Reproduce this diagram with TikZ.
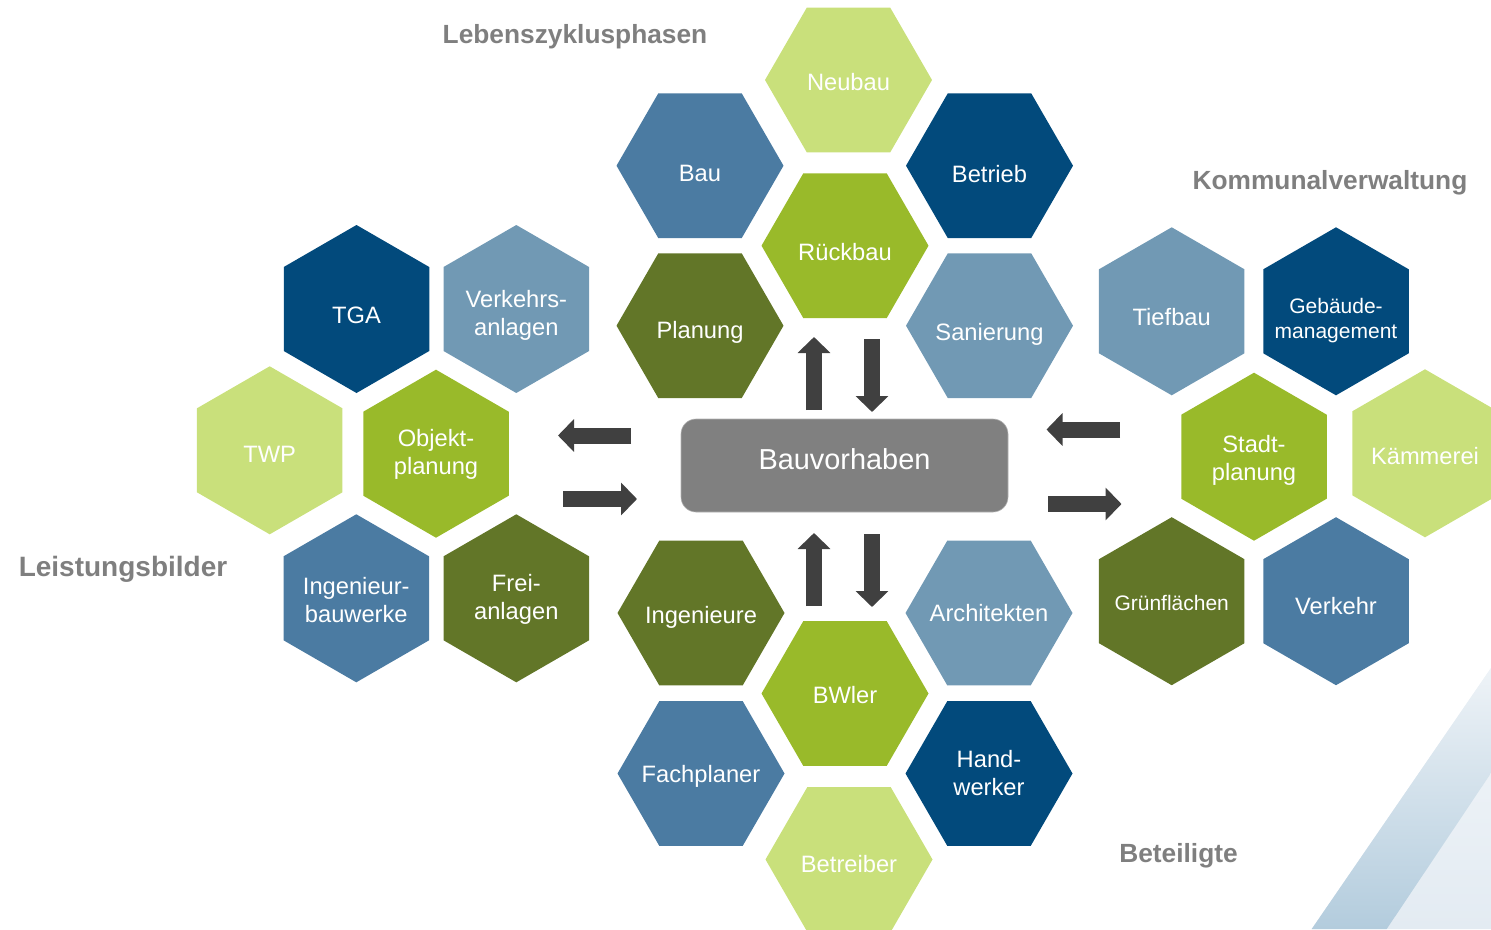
\documentclass[tikz,border=0pt]{standalone}
\usepackage{fontspec}
\setmainfont{Liberation Sans}
\usepackage{xcolor}
\usepackage{tikz}
\usetikzlibrary{shapes.geometric,arrows.meta}

\definecolor{hexlight}{HTML}{C9E07B}
\definecolor{hexmid}{HTML}{99BA2A}
\definecolor{hexdark}{HTML}{627628}
\definecolor{hexsteel}{HTML}{4B7BA2}
\definecolor{hexnavy}{HTML}{024A7C}
\definecolor{hexpale}{HTML}{7199B4}
\definecolor{titlegray}{HTML}{7F7F7F}
\definecolor{boxgray}{HTML}{808080}
\definecolor{arrowgray}{HTML}{404040}
\definecolor{bandpale}{HTML}{E3EBF2}
\definecolor{bandblue}{HTML}{B3CCDD}

\newcommand{\hexfont}{\fontsize{23.7}{28}\selectfont}
\newcommand{\hexsmall}{\fontsize{21}{25}\selectfont}
\newcommand{\titlefont}{\fontsize{26.3}{30}\selectfont\bfseries}
\newcommand{\boxfont}{\fontsize{28.9}{34}\selectfont}

% push the label of a hexagon down by #1 (one line / two lines)
\tikzset{
  tdown/.code={\pgfmathsetlengthmacro\hexth{17pt+2*#1pt}\tikzset{text height=\hexth}},
  tdownii/.code={\pgfmathsetlengthmacro\hexth{45pt+2*#1pt}\tikzset{text height=\hexth}},
}

\begin{document}
\begin{tikzpicture}[
    x=1pt, y=-1pt,
    hexflat/.style={regular polygon, regular polygon sides=6, minimum size=167pt, inner sep=-30pt, text=white, font=\hexfont, align=center, text depth=0pt, tdown=0},
    hexpoint/.style={hexflat, shape border rotate=90, minimum size=168pt},
    grouptitle/.style={anchor=base, text=titlegray, font=\titlefont, inner sep=0pt},
    projbox/.style={rectangle, rounded corners=15pt, fill=boxgray, draw=white!70!black, line width=0.6pt, minimum width=327pt, minimum height=93pt, text=white, font=\boxfont, text depth=12pt},
    blockarrow/.style={arrowgray, line width=16pt, -{Triangle[length=16pt, width=32pt]}},
  ]
  \useasboundingbox (0,0) rectangle (1491,929);

  % backdrop stripe, bottom right corner
  \shade[top color=bandpale!45!white, bottom color=bandpale] (1491,668) -- (1311.7,929) -- (1491,929) -- cycle;
  \shade[top color=bandpale!60!white, bottom color=bandblue] (1491,668) -- (1311.7,929) -- (1386.7,929) -- (1491,773) -- cycle;

  % --- centre ---
  \node[projbox] (bauvorhaben) at (844.5,465.5) {Bauvorhaben};

  % --- Lebenszyklusphasen (top) ---
  \node[grouptitle] (ttlLeben) at (575,43) {Lebenszyklusphasen};
  \node[hexflat, fill=hexlight, tdown=2] (neubau) at (848.5,80) {Neubau};
  \node[hexflat, fill=hexsteel, tdown=7] (bau) at (700,165.7) {Bau};
  \node[hexflat, fill=hexnavy, tdown=8] (betrieb) at (989.5,165.7) {Betrieb};
  \node[hexflat, fill=hexmid, tdown=6] (rueckbau) at (845,245.7) {Rückbau};
  \node[hexflat, fill=hexdark, tdown=4.5] (planung) at (700,325.7) {Planung};
  \node[hexflat, fill=hexpale, tdown=6] (sanierung) at (989.5,325.7) {Sanierung};

  % --- Beteiligte (bottom) ---
  \node[grouptitle] (ttlBet) at (1178.5,862) {Beteiligte};
  \node[hexflat, fill=hexdark, tdown=2] (ingenieure) at (701,613) {Ingenieure};
  \node[hexflat, fill=hexpale] (architekten) at (989,613) {Architekten};
  \node[hexflat, fill=hexmid, tdown=1.5] (bwler) at (845,693.5) {BWler};
  \node[hexflat, fill=hexsteel] (fachplaner) at (701,773.5) {Fachplaner};
  \node[hexflat, fill=hexnavy, tdownii=-1] (handwerker) at (989,773.5) {Hand-\\werker};
  \node[hexflat, fill=hexlight, tdown=4] (betreiber) at (849,859.5) {Betreiber};

  % --- Leistungsbilder (left) ---
  \node[grouptitle, font=\fontsize{28}{32}\selectfont\bfseries] (ttlLeist) at (123,576) {Leistungsbilder};
  \node[hexpoint, fill=hexnavy, tdown=6] (tga) at (356.5,309) {TGA};
  \node[hexpoint, fill=hexpale, tdownii=4] (verkehrsanl) at (516.3,309) {Verkehrs-\\anlagen};
  \node[hexpoint, fill=hexlight, tdown=4] (twp) at (269.7,450.3) {TWP};
  \node[hexpoint, fill=hexmid, tdownii=-1.5] (objektpl) at (436,453.7) {Objekt-\\planung};
  \node[hexpoint, fill=hexsteel, tdownii=2] (ingbauw) at (356.3,598.3) {Ingenieur-\\bauwerke};
  \node[hexpoint, fill=hexdark, tdownii=-1] (freianl) at (516.3,598.3) {Frei-\\anlagen};

  % --- Kommunalverwaltung (right) ---
  \node[grouptitle] (ttlKomm) at (1330,189) {Kommunalverwaltung};
  \node[hexpoint, fill=hexpale, tdown=6] (tiefbau) at (1171.7,311.3) {Tiefbau};
  \node[hexpoint, fill=hexnavy, font=\hexsmall, tdownii=5] (gebmgmt) at (1336,311.3) {Gebäude-\\management};
  \node[hexpoint, fill=hexmid, tdownii=1] (stadtpl) at (1254,456.7) {Stadt-\\planung};
  \node[hexpoint, fill=hexlight, tdown=3] (kaemmerei) at (1425,453.3) {Kämmerei};
  \node[hexpoint, fill=hexdark, font=\hexsmall, tdown=1] (gruenfl) at (1171.7,601.2) {Grünflächen};
  \node[hexpoint, fill=hexsteel, tdown=5] (verkehr) at (1336,601.2) {Verkehr};

  % arrow ends around the centre box
  \coordinate (upN0) at (814,410);   \coordinate (upN1) at (814,337);
  \coordinate (dnN0) at (872,339);   \coordinate (dnN1) at (872,412);
  \coordinate (upS0) at (814,606);   \coordinate (upS1) at (814,533);
  \coordinate (dnS0) at (872,534);   \coordinate (dnS1) at (872,607);
  \coordinate (lfW0) at (631,435.5); \coordinate (lfW1) at (558,435.5);
  \coordinate (rtW0) at (563,499);   \coordinate (rtW1) at (637,499);
  \coordinate (lfE0) at (1120,429.5);  \coordinate (lfE1) at (1046.5,429.5);
  \coordinate (rtE0) at (1048,504);  \coordinate (rtE1) at (1121.5,504);

  \draw[blockarrow] (upN0) -- (upN1);
  \draw[blockarrow] (dnN0) -- (dnN1);
  \draw[blockarrow] (upS0) -- (upS1);
  \draw[blockarrow] (dnS0) -- (dnS1);
  \draw[blockarrow] (lfW0) -- (lfW1);
  \draw[blockarrow] (rtW0) -- (rtW1);
  \draw[blockarrow] (lfE0) -- (lfE1);
  \draw[blockarrow] (rtE0) -- (rtE1);

\end{tikzpicture}
\end{document}
